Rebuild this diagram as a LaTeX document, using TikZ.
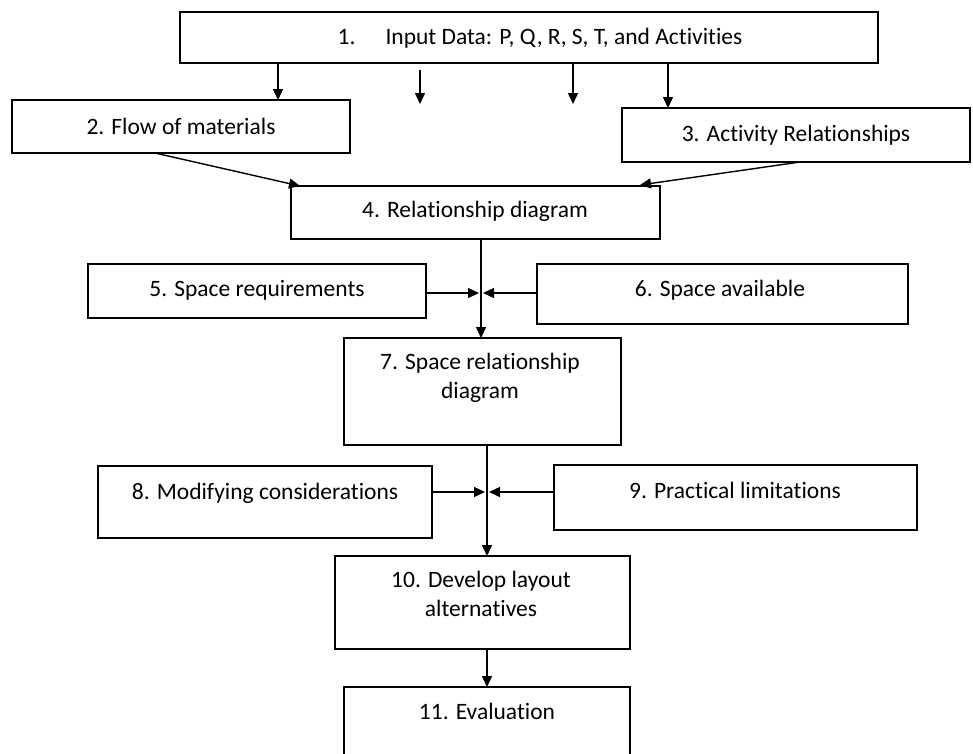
\documentclass[tikz,border=0pt]{standalone}
\usepackage{fontspec}
\setmainfont[Ligatures=NoCommon]{Carlito}
\usetikzlibrary{arrows.meta,fit}
\begin{document}
\begin{tikzpicture}[x=1pt,y=-1pt,
  box/.style={draw, line width=1.4pt, inner sep=0pt, outer sep=0pt},
  lbl/.style={inner sep=0pt, font=\fontsize{23.5}{29}\selectfont, align=center},
  arr/.style={line width=1.4pt, -{Triangle[length=11pt,width=10pt]}},
  ln/.style={line width=1.4pt}]
\useasboundingbox (0,0) rectangle (973,753);
\clip (0,0) rectangle (973,753);
% boxes
\node[box, fit={(180,12) (878,63)}] (b1) {};
\node[box, fit={(12,100) (350,153)}] (b2) {};
\node[box, fit={(622,108) (970,162)}] (b3) {};
\node[box, fit={(291,186) (660,239)}] (b4) {};
\node[box, fit={(88,264) (426,318)}] (b5) {};
\node[box, fit={(537,264) (908,324)}] (b6) {};
\node[box, fit={(344,338) (621,445)}] (b7) {};
\node[box, fit={(98,466) (432,538)}] (b8) {};
\node[box, fit={(554,465) (917,530)}] (b9) {};
\node[box, fit={(335,556) (630,649)}] (b10) {};
\node[box, fit={(344,687) (630,790)}] (b11) {};
% labels
\node[lbl] (t1) at (540,38) {1.\hspace{30pt}Input Data: P, Q, R, S, T, and Activities};
\node[lbl] (t2) at (181,126) {2. Flow of materials};
\node[lbl] (t3) at (796,135) {3. Activity Relationships};
\node[lbl] (t4) at (475,211) {4. Relationship diagram};
\node[lbl] (t5) at (257,290) {5. Space requirements};
\node[lbl] (t6) at (720,290) {6. Space available};
\node[lbl] (t7) at (480,378) {7. Space relationship\\diagram};
\node[lbl] (t8) at (265,493) {8. Modifying considerations};
\node[lbl] (t9) at (735,490) {9. Practical limitations};
\node[lbl] (t10) at (481,594) {10. Develop layout\\alternatives};
\node[lbl] (t11) at (487,711) {11. Evaluation};
% coordinates
\coordinate (a2s) at (420,70);
\coordinate (a2e) at (420,104);
\coordinate (a3e) at (573,104);
\coordinate (m1) at (481,293);
\coordinate (m2) at (487,492);
% connectors
\draw[arr] (b1.south -| 278,0) -- (b2.north -| 278,0);
\draw[arr] (a2s) -- (a2e);
\draw[arr] (b1.south -| a3e) -- (a3e);
\draw[arr] (b1.south -| 668,0) -- (b3.north -| 668,0);
\draw[arr] (b2.south -| 155,0) -- (300,186);
\draw[arr] (b3.south -| 800,0) -- (640,185);
\draw[arr] (b4.south -| m1) -- (b7.north -| m1);
\draw[arr] (b5.east |- m1) -- ([xshift=-2pt]m1);
\draw[arr] (b6.west |- m1) -- ([xshift=2pt]m1);
\draw[arr] (b7.south -| m2) -- (b10.north -| m2);
\draw[arr] (b8.east |- m2) -- ([xshift=-2pt]m2);
\draw[arr] (b9.west |- m2) -- ([xshift=2pt]m2);
\draw[arr] (b10.south -| m2) -- (b11.north -| m2);
\end{tikzpicture}
\end{document}
